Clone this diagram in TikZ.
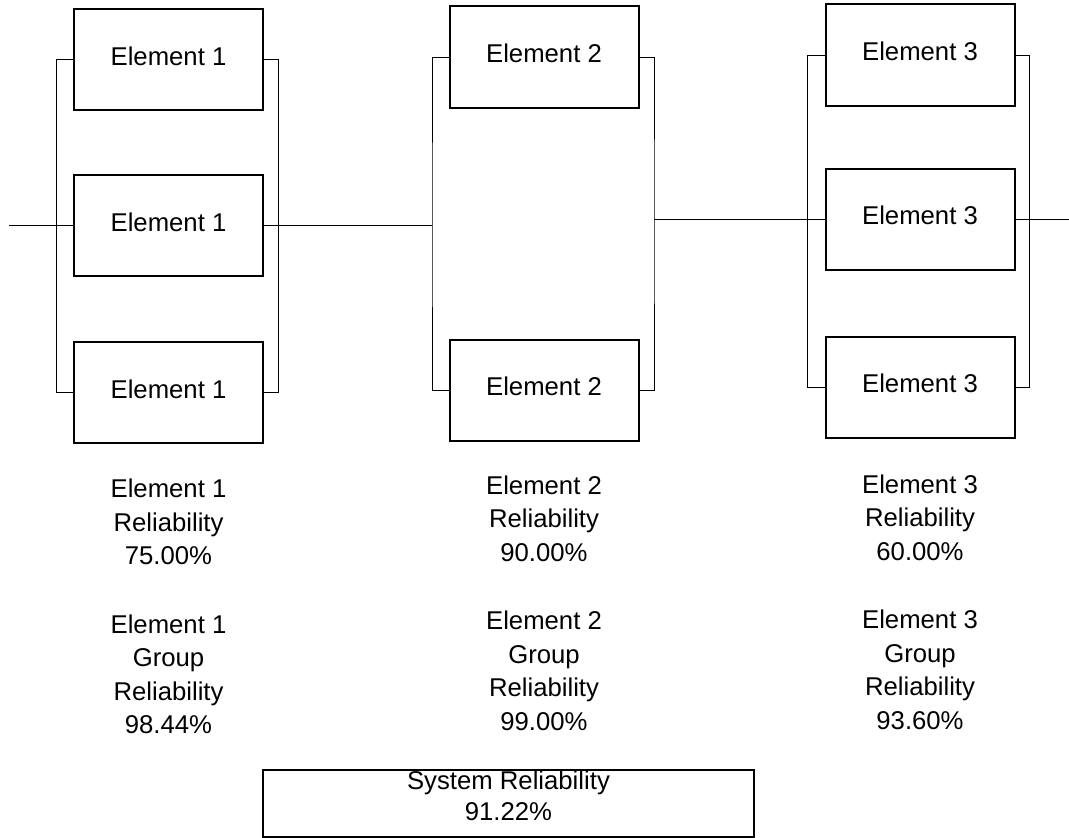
\documentclass[tikz,border=0pt]{standalone}
\usepackage{fontspec}
\setmainfont{Liberation Sans}
\usepackage{tikz}
\usetikzlibrary{positioning, calc}
\tikzstyle{element} = [rectangle, minimum width=189bp, minimum height=101bp, text depth=7bp, inner sep=0pt, outer sep=0pt, align=center, draw=black, line width=2bp, font=\fontsize{25.8pt}{33.6pt}\selectfont]
\tikzstyle{info} = [inner sep=0pt, outer sep=0pt, align=center, font=\fontsize{25.8pt}{33.6pt}\selectfont]
\tikzstyle{total} = [rectangle, minimum width=491bp, minimum height=66.5bp, outer sep=0pt, draw=black, line width=2bp]
\tikzstyle{wire} = [line width=1bp, draw=black]

\begin{document}
\begin{tikzpicture}[x=1bp, y=-1bp, node distance=65bp]
\useasboundingbox (0,0) rectangle (1069,838);
\node (e1a) [element] at (168.5,59.5) {Element 1};
\node (e1b) [element, below=of e1a] {Element 1};
\node (e1c) [element, below=66bp of e1b] {Element 1};
\node (e2a) [element] at (544,57) {Element 2};
\node (e2b) [element, below=232bp of e2a] {Element 2};
\node (e3a) [element] at (920,55) {Element 3};
\node (e3b) [element, below=63bp of e3a] {Element 3};
\node (e3c) [element, below=67bp of e3b] {Element 3};

\node (e1rel) [info, below=36bp of e1c] {Element 1\\Reliability\\75.00\%};
\node (e1grp) [info, below=50bp of e1rel] {Element 1\\Group\\Reliability\\98.44\%};
\node (e2rel) [info, below=35bp of e2b] {Element 2\\Reliability\\90.00\%};
\node (e2grp) [info, below=50bp of e2rel] {Element 2\\Group\\Reliability\\99.00\%};
\node (e3rel) [info, below=37bp of e3c] {Element 3\\Reliability\\60.00\%};
\node (e3grp) [info, below=50bp of e3rel] {Element 3\\Group\\Reliability\\93.60\%};

\node (sys) [total] at (508.5,803.25) {};
\node (sysval) [info, font=\fontsize{25.8pt}{31pt}\selectfont, below=1bp of sys.north] {System Reliability\\91.22\%};

\coordinate (in) at ($(e1b.west)+(-65,0)$);
\coordinate (j2in) at ($(e1b.east -| e2a.west)+(-17.5,0)$);
\coordinate (j2out) at ($(e3b.west -| e2a.east)+(15.5,0)$);
\coordinate (out) at ($(e3b.east)+(55,0)$);

\draw [wire] (in) -- (e1b.west);
\draw [wire] (e1a.west) -- ++(-17,0) |- (e1c.west);
\draw [wire] (e1a.east) -- ++(15,0) |- (e1c.east);
\draw [wire] (e1b.east) -- (j2in);
\draw [wire] (e2a.west) -| (j2in) |- (e2b.west);
\draw [wire] (e2a.east) -| (j2out) |- (e2b.east);
\draw [wire] (j2out) -- (e3b.west);
\draw [wire] (e3a.west) -- ++(-18,0) |- (e3c.west);
\draw [wire] (e3a.east) -- ++(15,0) |- (e3c.east);
\draw [wire] (e3b.east) -- (out);
\end{tikzpicture}
\end{document}
